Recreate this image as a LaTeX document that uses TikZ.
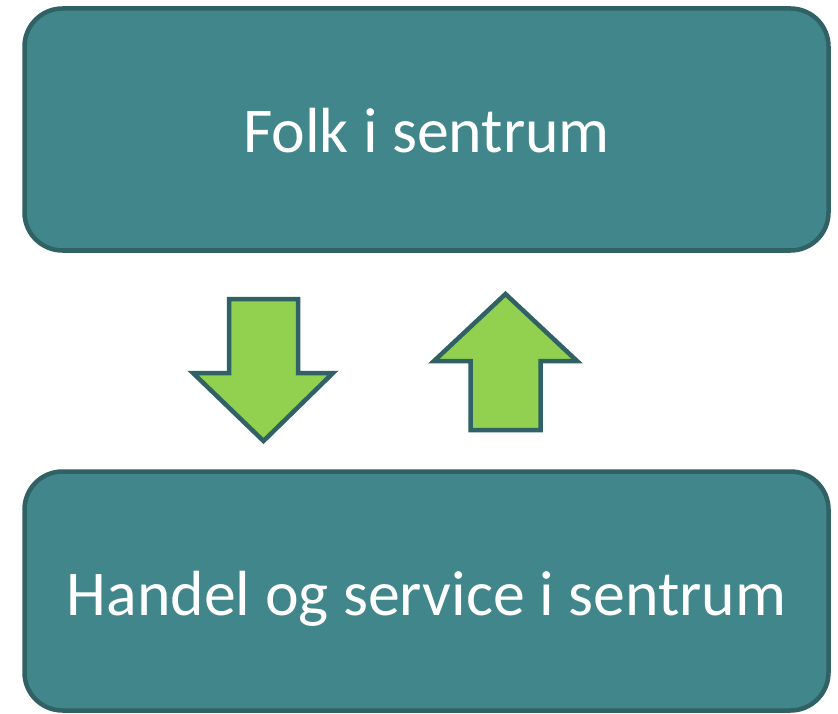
\documentclass[tikz,border=0pt]{standalone}
\usepackage{fontspec}
\setmainfont{Carlito}
\definecolor{boxfill}{HTML}{41868A}
\definecolor{boxline}{HTML}{2F6165}
\definecolor{arrowfill}{HTML}{92D050}
\begin{document}
\begin{tikzpicture}[x=1pt,y=-1pt,
  panel/.style={draw=boxline,fill=boxfill,line width=4.5pt,rounded corners=38pt,
    minimum width=804pt,inner sep=0pt},
  label/.style={text=white,font=\fontsize{63.8}{76}\selectfont,anchor=base,inner sep=0pt},
  bigarrow/.style={draw=boxline,fill=arrowfill,line width=4.5pt,line join=miter}]
\useasboundingbox (0,0) rectangle (838,714);
\node[panel,minimum height=242pt] (top) at (426.5,129.5) {};
\node[panel,minimum height=239pt] (bot) at (426.5,591) {};
\node[label] (toptext) at (426.5,153) {Folk i sentrum};
\node[label] (bottext) at (426.5,615) {Handel og service i sentrum};
\draw[bigarrow] (229,299) -- (298,299) -- (298,373) -- (333,373) -- (263.5,441) -- (193,373) -- (229,373) -- cycle;
\draw[bigarrow] (470.5,430) -- (540.5,430) -- (540.5,361) -- (577,361) -- (505.5,294) -- (434,361) -- (470.5,361) -- cycle;
\end{tikzpicture}
\end{document}
